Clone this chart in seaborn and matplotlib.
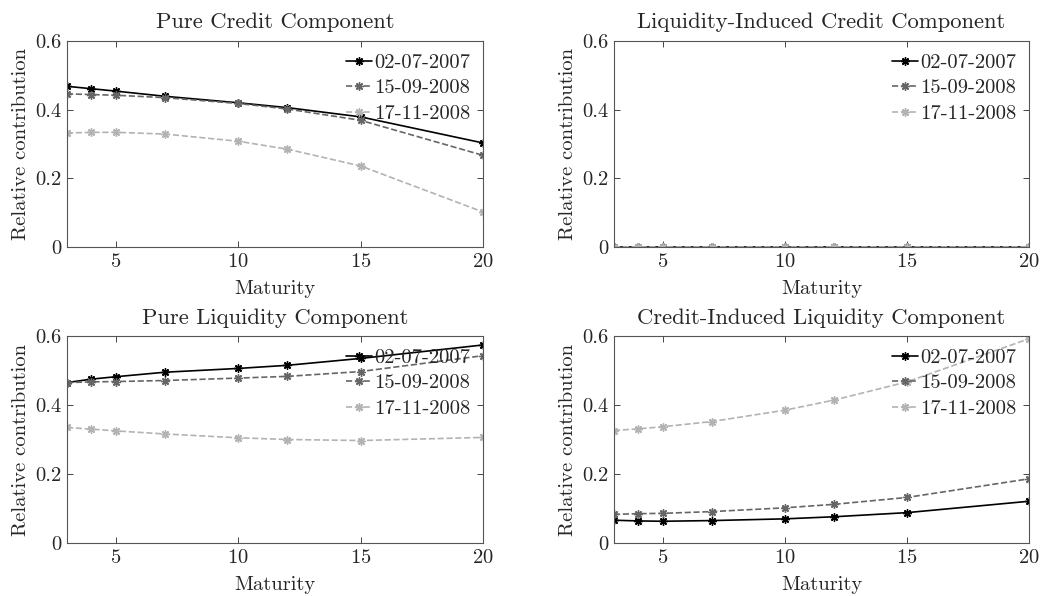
import pandas as pd
import seaborn as sns
import matplotlib.pyplot as plt
from matplotlib.ticker import FuncFormatter

# Maturities (years) and relative contributions
maturity = [3, 4, 5, 7, 10, 12, 15, 20]
dates = ["02-07-2007", "15-09-2008", "17-11-2008"]

pure_credit = {
    "02-07-2007": [0.468, 0.461, 0.454, 0.439, 0.420, 0.406, 0.379, 0.303],
    "15-09-2008": [0.446, 0.444, 0.442, 0.435, 0.418, 0.402, 0.369, 0.267],
    "17-11-2008": [0.332, 0.334, 0.334, 0.329, 0.308, 0.285, 0.236, 0.102],
}
liq_induced_credit = {
    "02-07-2007": [0, 0, 0, 0, 0, 0, 0, 0],
    "15-09-2008": [0, 0, 0, 0, 0, 0, 0, 0],
    "17-11-2008": [0, 0, 0, 0, 0, 0, 0, 0],
}
pure_liquidity = {
    "02-07-2007": [0.465, 0.475, 0.482, 0.495, 0.506, 0.515, 0.535, 0.574],
    "15-09-2008": [0.465, 0.467, 0.468, 0.471, 0.478, 0.483, 0.497, 0.543],
    "17-11-2008": [0.335, 0.330, 0.325, 0.316, 0.305, 0.300, 0.297, 0.306],
}
credit_induced_liq = {
    "02-07-2007": [0.066, 0.064, 0.063, 0.065, 0.070, 0.076, 0.088, 0.121],
    "15-09-2008": [0.083, 0.085, 0.086, 0.091, 0.102, 0.112, 0.132, 0.186],
    "17-11-2008": [0.326, 0.331, 0.337, 0.352, 0.385, 0.414, 0.467, 0.592],
}

panels = [
    ("Pure Credit Component", pure_credit),
    ("Liquidity-Induced Credit Component", liq_induced_credit),
    ("Pure Liquidity Component", pure_liquidity),
    ("Credit-Induced Liquidity Component", credit_induced_liq),
]

colors = {"02-07-2007": "black", "15-09-2008": "#666666", "17-11-2008": "#b3b3b3"}
styles = {"02-07-2007": "-", "15-09-2008": "--", "17-11-2008": "--"}

sns.set_theme(style="ticks")
plt.rcParams["font.family"] = ["cmr10", "DejaVu Serif"]
plt.rcParams["mathtext.fontset"] = "cm"
plt.rcParams["axes.unicode_minus"] = False
plt.rcParams["axes.formatter.use_mathtext"] = True

fig, axes = plt.subplots(2, 2, figsize=(10.45, 5.96), dpi=100)

# axes boxes in pixels: left, right, top, bottom
boxes = [(67, 483, 41, 247), (614, 1029, 41, 247),
         (67, 483, 336, 543), (614, 1029, 336, 543)]

for ax, (title, data), (l, r, t, b) in zip(axes.flat, panels, boxes):
    ax.set_position([l / 1045, 1 - b / 596, (r - l) / 1045, (b - t) / 596])
    for d in dates:
        df = pd.DataFrame({"Maturity": maturity, "value": data[d]})
        sns.lineplot(data=df, x="Maturity", y="value", ax=ax,
                     color=colors[d], linestyle=styles[d], linewidth=1.2,
                     marker=(8, 2, 0), markersize=6, markeredgewidth=1.0,
                     markeredgecolor=colors[d], label=d)
    ax.set_xlim(3, 20)
    ax.set_ylim(0, 0.6)
    ax.set_xticks([5, 10, 15, 20])
    ax.set_yticks([0, 0.2, 0.4, 0.6])
    ax.yaxis.set_major_formatter(FuncFormatter(lambda v, p: "%g" % round(v, 2)))
    ax.set_title(title, fontsize=16.3, pad=9)
    ax.set_xlabel("Maturity", fontsize=14.8, labelpad=7)
    ax.set_ylabel("Relative contribution", fontsize=14.8, labelpad=4)
    ax.tick_params(direction="in", length=4, width=0.6, labelsize=14.8,
                   top=True, right=True, colors="#262626", pad=4)
    for s in ax.spines.values():
        s.set_visible(True)
        s.set_color("#555555")
        s.set_linewidth(0.8)
    ax.legend(loc="upper right", frameon=False, fontsize=14.8, handlelength=1.3,
              handletextpad=0.1, labelspacing=0.35, borderaxespad=0.2)

plt.savefig("out.png", dpi=100)
